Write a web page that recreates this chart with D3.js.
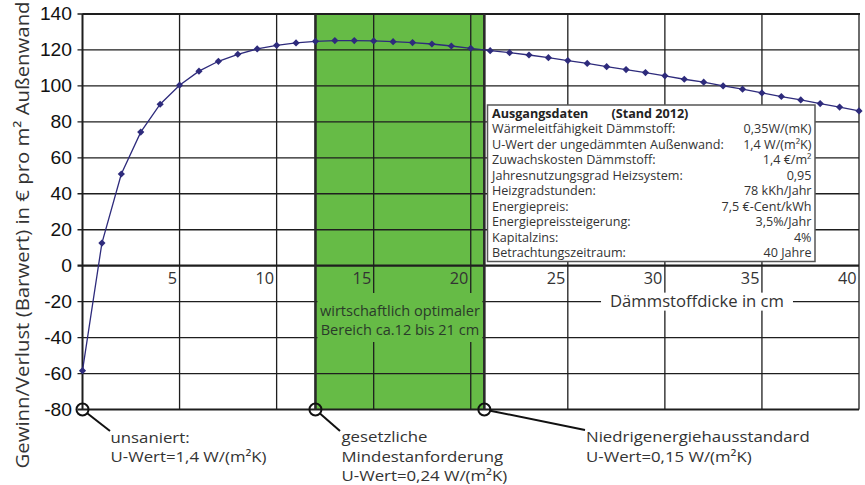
<!DOCTYPE html>
<html><head><meta charset="utf-8">
<script src="https://cdn.jsdelivr.net/npm/d3@7"></script>
<style>body{margin:0;background:#fff}svg{display:block}</style>
</head><body>
<svg id="c" width="865" height="485"></svg>
<script>
// ---- data ----
const thickness = [0,1,2,3,4,5,6,7,8,9,10,11,12,13,14,15,16,17,18,19,20,21,22,23,24,25,26,27,28,29,30,31,32,33,34,35,36,37,38,39,40];
const value = [-58.4,12.6,51.0,74.3,89.8,100.4,108.2,113.7,117.6,120.6,122.6,123.9,124.8,125.2,125.2,125.0,124.6,124.1,123.3,122.2,120.9,119.6,118.5,117.2,115.7,114.1,112.5,110.7,109.1,107.4,105.6,103.7,102.1,100.0,98.2,96.1,94.1,92.2,90.2,88.2,86.1];
const xTicks = [5,10,15,20,25,30,35,40];
const yTicks = [-80,-60,-40,-20,0,20,40,60,80,100,120,140];
const optimalRange = [12, 20.7];
const infoTitle = ["Ausgangsdaten", "(Stand 2012)"];
const infoLabels = ["Wärmeleitfähigkeit Dämmstoff:","U-Wert der ungedämmten Außenwand:","Zuwachskosten Dämmstoff:","Jahresnutzungsgrad Heizsystem:","Heizgradstunden:","Energiepreis:","Energiepreissteigerung:","Kapitalzins:","Betrachtungszeitraum:"];
const infoValues = ["0,35W/(mK)","1,4 W/(m²K)","1,4 €/m²","0,95","78 kKh/Jahr","7,5 €-Cent/kWh","3,5%/Jahr","4%","40 Jahre"];
const markerX = [0, 12, 20.7];
const notes = [
  {lines:["unsaniert:","U-Wert=1,4 W/(m²K)"]},
  {lines:["gesetzliche","Mindestanforderung","U-Wert=0,24 W/(m²K)"]},
  {lines:["Niedrigenergiehausstandard","U-Wert=0,15 W/(m²K)"]}
];
const yTitle = "Gewinn/Verlust (Barwert) in € pro m² Außenwand";
const xTitle = "Dämmstoffdicke in cm";
const rangeText = ["wirtschaftlich optimaler","Bereich ca.12 bis 21 cm"];

// ---- layout ----
const svg = d3.select("#c");
const L=82.5, R=859, T=14, B=409.5;
const x = d3.scaleLinear().domain([0,40]).range([L,R]);
const y = d3.scaleLinear().domain([-80,140]).range([B,T]);
const sans = "'Open Sans', 'DejaVu Sans', sans-serif";
const grid = "#1e1e1e";

svg.append("rect").attr("width",865).attr("height",485).attr("fill","#fff");

// green optimal region
svg.append("rect").attr("x",x(optimalRange[0])).attr("y",T).attr("width",x(optimalRange[1])-x(optimalRange[0])).attr("height",B-T).attr("fill","#66bb46");

// gridlines
svg.append("g").selectAll("line").data(yTicks).join("line")
  .attr("x1",L-5).attr("x2",R).attr("y1",d=>y(d)).attr("y2",d=>y(d))
  .attr("stroke",grid).attr("stroke-width",d=>(d===0||d===-80)?2.2:1.3);
svg.append("line").attr("x1",L).attr("x2",R+1).attr("y1",T).attr("y2",T).attr("stroke",grid).attr("stroke-width",2);
svg.append("g").selectAll("line").data(xTicks).join("line")
  .attr("x1",d=>x(d)).attr("x2",d=>x(d)).attr("y1",T).attr("y2",B)
  .attr("stroke",grid).attr("stroke-width",1.3);
svg.append("line").attr("x1",L).attr("x2",L).attr("y1",T).attr("y2",B).attr("stroke",grid).attr("stroke-width",2);

// y tick labels (slightly widened glyphs like the reference)
svg.append("g").selectAll("text").data(yTicks).join("text")
  .attr("transform",d=>`translate(72,${y(d)+6}) scale(1.1,1)`).attr("text-anchor","end")
  .attr("font-family","'Liberation Sans', Arial, sans-serif").attr("font-size",17.5).attr("fill","#111")
  .text(d=>d);

// x tick labels
svg.append("g").selectAll("text").data(xTicks).join("text")
  .attr("transform",d=>`translate(${x(d)-2.5},${y(0)+18}) scale(1.05,1)`).attr("text-anchor","end")
  .attr("font-family",sans).attr("font-size",15.5).attr("fill","#333")
  .text(d=>d);

// x axis title with white background
const xt = svg.append("text").attr("transform",`translate(697,${y(-20)+5.5}) scale(1.04,1)`).attr("text-anchor","middle")
  .attr("font-family",sans).attr("font-size",16).attr("fill","#333").text(xTitle);
const xw = xt.node().getBBox().width*1.04;
svg.insert("rect", () => xt.node()).attr("x",697-xw/2-9).attr("y",y(-20)-9).attr("width",xw+18).attr("height",18).attr("fill","#fff");

// green text panel
const gx0 = x(optimalRange[0])+2, gx1 = x(optimalRange[1])-2;
svg.append("rect").attr("x",gx0).attr("y",293).attr("width",gx1-gx0).attr("height",49).attr("fill","#66bb46");
const gcx = (x(optimalRange[0])+x(optimalRange[1]))/2;
svg.append("g").selectAll("text").data(rangeText).join("text")
  .attr("transform",(d,i)=>`translate(${gcx},${316+i*19}) scale(1.04,1)`).attr("text-anchor","middle")
  .attr("font-family",sans).attr("font-size",14).attr("fill","#2a3a2a").text(d=>d);

// green edges
svg.append("g").selectAll("line").data(optimalRange).join("line")
  .attr("x1",d=>x(d)).attr("x2",d=>x(d)).attr("y1",T).attr("y2",B)
  .attr("stroke","#2a2a2a").attr("stroke-width",2.6);

// info box
const bx=487.5, by=105, bw=327.5, bh=156.5;
svg.append("rect").attr("x",bx).attr("y",by).attr("width",bw).attr("height",bh).attr("fill","#fff").attr("stroke","#555").attr("stroke-width",1.5);
const infoFont = 12.6;
svg.append("text").attr("x",bx+4.5).attr("y",by+12.5).attr("font-family",sans).attr("font-weight","bold").attr("font-size",infoFont).attr("fill","#222").text(infoTitle[0]);
svg.append("text").attr("x",bx+124).attr("y",by+12.5).attr("font-family",sans).attr("font-weight","bold").attr("font-size",infoFont).attr("fill","#222").text(infoTitle[1]);
svg.append("g").selectAll("text").data(infoLabels).join("text")
  .attr("x",bx+4.5).attr("y",(d,i)=>by+12.5+(i+1)*15.55).attr("font-family",sans).attr("font-size",infoFont).attr("fill","#333").text(d=>d);
svg.append("g").selectAll("text").data(infoValues).join("text")
  .attr("x",bx+bw-3.5).attr("y",(d,i)=>by+12.5+(i+1)*15.55).attr("text-anchor","end").attr("font-family",sans).attr("font-size",infoFont).attr("fill","#333").text(d=>d);

// data line
const lineColor = "#2e2b7c";
svg.append("path").datum(thickness.map((t,i)=>[t,value[i]]))
  .attr("d", d3.line().x(d=>x(d[0])).y(d=>y(d[1])))
  .attr("fill","none").attr("stroke",lineColor).attr("stroke-width",1.3);
svg.append("g").selectAll("path").data(thickness.map((t,i)=>[t,value[i]])).join("path")
  .attr("transform",d=>`translate(${x(d[0])},${y(d[1])})`)
  .attr("d","M0,-3.6L3.6,0L0,3.6L-3.6,0Z").attr("fill",lineColor);

// y axis title
svg.append("text").attr("transform",`translate(28.5,235) rotate(-90) scale(1.1,1)`).attr("text-anchor","middle")
  .attr("font-family",sans).attr("font-size",18.5).attr("fill","#333").text(yTitle);

// markers & annotations
const noteAnchor = [[110,431],[340,431],[585,430]];
const noteText = [[110.5,442.5],[341.5,442],[586,442]];
markerX.forEach((mx,i)=>{
  const cx=x(mx), cy=B, r=6;
  const [ex,ey]=noteAnchor[i];
  const a=Math.atan2(ey-cy,ex-cx);
  svg.append("line").attr("x1",cx+r*Math.cos(a)).attr("y1",cy+r*Math.sin(a)).attr("x2",ex).attr("y2",ey)
    .attr("stroke","#111").attr("stroke-width",2);
  svg.append("circle").attr("cx",cx).attr("cy",cy).attr("r",r).attr("fill","none").attr("stroke","#111").attr("stroke-width",2);
  svg.append("g").selectAll("text").data(notes[i].lines).join("text")
    .attr("transform",(d,j)=>`translate(${noteText[i][0]},${noteText[i][1]+j*19.5}) scale(1.12,1)`)
    .attr("font-family",sans).attr("font-size",15).attr("fill","#333").text(d=>d);
});
</script>
</body></html>
